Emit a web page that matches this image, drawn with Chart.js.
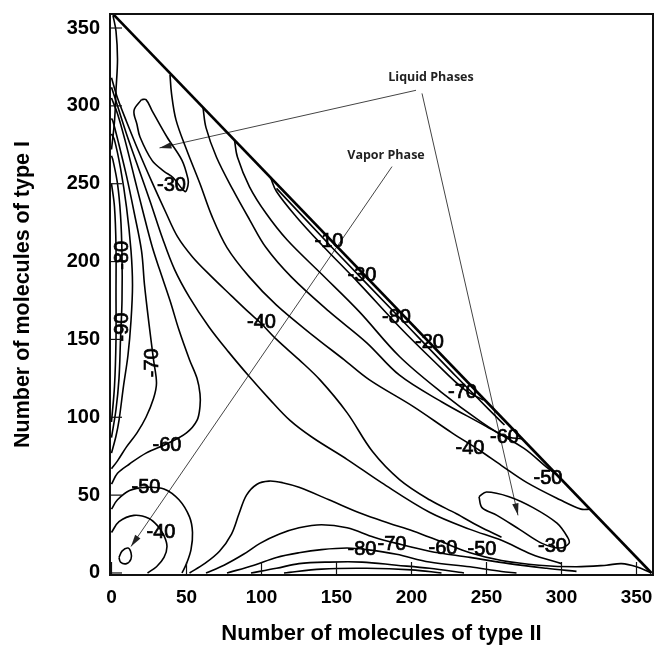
<!DOCTYPE html>
<html>
<head>
<meta charset="utf-8">
<script src="https://cdn.jsdelivr.net/npm/chart.js@4.4.0/dist/chart.umd.min.js"></script>
<style>
  html, body { margin: 0; padding: 0; background: #fff; }
  canvas { display: block; }
</style>
</head>
<body>
<canvas id="phaseChart" width="656" height="648"></canvas>
<script>
// axis ticks (both axes)
const tickValues = [0, 50, 100, 150, 200, 250, 300, 350];

// contour lines as [type II, type I] pairs
const boundary = [[0, 360], [360, 0]];
const boundaryHug = [[110, 247], [150, 206], [190, 166], [230, 126], [262, 95]];

const vaporLoop = [[5, 10], [7, 14], [11, 16], [13, 13], [13, 9], [10, 6], [6, 7], [5, 10]];
const vapor40 = [[0, 26], [5, 33], [15, 37], [25, 35], [31, 30], [35, 24], [37, 17], [35, 10], [30, 4], [24, 0]];
const vapor50 = [[0, 41], [4, 47], [12, 53], [23, 55], [35, 54], [45, 47], [52, 36], [54, 26], [53, 15], [50, 6], [47, 0]];
const contour60 = [[0, 57], [4, 64], [12, 70], [23, 77], [37, 83], [50, 90], [57, 98], [59, 107], [59, 115], [57, 125], [52, 137],
  [45, 156], [39, 175], [32, 195], [27, 210], [21, 232], [15, 255], [9, 278], [4, 295], [0, 305]];
const contour70 = [[0, 67], [4, 72], [10, 81], [17, 90], [23, 100], [28, 112], [30, 122], [28, 137], [25, 160], [22, 185],
  [20, 207], [15, 232], [10, 255], [5, 275], [1, 290], [0, 292]];
const axisLine1 = [[0, 97], [2, 120], [3, 150], [3, 180], [3, 210], [2, 235], [0, 250]];
const axisLine2 = [[0, 87], [3, 105], [5, 125], [6, 150], [7, 175], [7, 205], [6, 230], [4, 250], [1, 265], [0, 268]];
const axisLine3 = [[0, 77], [3, 88], [5, 98], [8, 120], [11, 140], [13, 162], [14, 185], [13, 207], [10, 235], [6, 260], [2, 278], [0, 282]];
const topLine = [[0, 272], [2, 290], [3, 310], [4, 330], [3, 348], [1, 358]];

const liquid1Loop = [[20, 304], [15, 297], [17, 288], [19, 280], [27, 265], [35, 258], [41, 254], [49, 245], [51, 249],
  [51, 253], [47, 265], [37, 280], [27, 297], [23, 304], [20, 304]];
const liquid2Loop = [[245, 49], [250, 52], [265, 49], [281, 42], [297, 32], [304, 23], [305, 19], [299, 16], [287, 19],
  [272, 28], [257, 37], [247, 42], [245, 49]];

const band1 = [[0, 312], [4, 300], [10, 282], [18, 260], [26, 238], [34, 215], [42, 195], [52, 177], [65, 158], [78, 142],
  [92, 126], [105, 112], [119, 98], [134, 87], [157, 73], [180, 58], [212, 39], [239, 28], [260, 21], [280, 12], [300, 6]];
const band2 = [[0, 318], [4, 305], [10, 290], [18, 271], [27, 251], [36, 232], [44, 216], [54, 203], [66, 191], [80, 178],
  [92, 167], [99, 161], [110, 150], [125, 137], [139, 124], [157, 103], [174, 78], [192, 60], [212, 47], [230, 38], [245, 30], [260, 23]];
const band3 = [[39, 320], [40, 308], [43, 291], [50, 272], [59, 250], [67, 229], [77, 209], [92, 190], [110, 172], [135, 152],
  [155, 137], [172, 124], [201, 107], [227, 90], [245, 79], [260, 69], [277, 58], [299, 47], [313, 41], [319, 41]];
const band4 = [[61, 299], [63, 286], [70, 267], [81, 246], [92, 227], [103, 209], [120, 190], [145, 168], [170, 148],
  [192, 127], [220, 110], [250, 94], [275, 80], [290, 68], [297, 63]];
const band5 = [[82, 278], [84, 267], [92, 248], [103, 231], [117, 214], [140, 192], [165, 168], [192, 139], [220, 116],
  [245, 98], [262, 88], [274, 86]];
const band6 = [[106, 254], [110, 245], [123, 229], [140, 211], [165, 186], [192, 158], [215, 136], [235, 118], [248, 111]];

const bottom1 = [[52, 0], [62, 6], [72, 14], [80, 25], [85, 38], [90, 50], [97, 57], [105, 59], [114, 58], [125, 55], [145, 47],
  [167, 38], [185, 32], [201, 27], [220, 20], [239, 13], [260, 8], [285, 5], [310, 4], [330, 5], [340, 6], [350, 4], [360, 0]];
const bottom2 = [[63, 0], [75, 5], [88, 12], [99, 19], [112, 25], [125, 29], [140, 31], [157, 29], [175, 23], [190, 19],
  [212, 14], [239, 10], [265, 6], [290, 3], [310, 1]];
const bottom3 = [[77, 0], [95, 5], [110, 10], [125, 13], [140, 15], [157, 16], [170, 15], [190, 12], [212, 7], [239, 4], [260, 1], [270, 0]];
const bottom4 = [[93, 0], [110, 3], [125, 6], [145, 7], [167, 7], [190, 5], [212, 3], [235, 0]];
const bottom5 = [[115, 0], [140, 2.5], [170, 3], [200, 2], [220, 0]];

// contour level labels: text, x, y, rotated
const contourLabels = [
  ['-30', 40, 249, false], ['-40', 100, 161, false], ['-70', 27, 135, true], ['-90', 7, 158, true], ['-80', 7, 204, true],
  ['-60', 37, 82, false], ['-50', 23, 55, false], ['-40', 33, 26, false], ['-10', 145, 213, false], ['-30', 167, 191, false],
  ['-80', 190, 164, false], ['-20', 212, 148, false], ['-70', 234, 116, false], ['-60', 262, 87, false], ['-40', 239, 80, false],
  ['-50', 291, 61, false], ['-30', 294, 17, false], ['-80', 167, 15, false], ['-70', 187, 18, false], ['-60', 221, 16, false],
  ['-50', 247, 15, false]
];

// annotation arrows (from text to phase) and their captions
const arrowLiquid1 = [[203, 310], [32, 273]];
const arrowLiquid2 = [[207, 308], [271, 37]];
const arrowVapor = [[187, 261], [13, 17]];
const captions = [['Liquid Phases', 213, 318.5], ['Vapor Phase', 183, 268]];

const contours = [boundaryHug, vaporLoop, vapor40, vapor50, contour60, contour70, axisLine1, axisLine2, axisLine3, topLine,
  liquid1Loop, liquid2Loop, band1, band2, band3, band4, band5, band6, bottom1, bottom2, bottom3, bottom4, bottom5];
const arrows = [arrowLiquid1, arrowLiquid2, arrowVapor];

function lineSet(points, width, color, tension) {
  return {
    data: points.map(p => ({ x: p[0], y: p[1] })),
    showLine: true,
    borderColor: color,
    borderWidth: width,
    pointRadius: 0,
    tension: tension,
    fill: false
  };
}

const datasets = [
  lineSet(boundary, 2.6, '#000', 0),
  ...contours.map(c => lineSet(c, 1.6, '#000', 0.35)),
  ...arrows.map(a => lineSet(a, 1, '#444', 0))
];

const decorations = {
  id: 'decorations',
  afterDatasetsDraw(chart) {
    const { ctx, chartArea: a, scales: { x, y } } = chart;
    ctx.save();

    // frame
    ctx.strokeStyle = '#111';
    ctx.lineWidth = 2;
    ctx.strokeRect(a.left, a.top, a.right - a.left, a.bottom - a.top);

    // inward tick marks
    ctx.lineWidth = 1.2;
    tickValues.forEach(v => {
      const px = x.getPixelForValue(v);
      ctx.beginPath(); ctx.moveTo(px, a.bottom); ctx.lineTo(px, a.bottom - 13); ctx.stroke();
      const py = y.getPixelForValue(v);
      ctx.beginPath(); ctx.moveTo(a.left, py); ctx.lineTo(a.left + 12, py); ctx.stroke();
    });

    // arrow heads
    ctx.fillStyle = '#222';
    arrows.forEach(ar => {
      const x0 = x.getPixelForValue(ar[0][0]), y0 = y.getPixelForValue(ar[0][1]);
      const x1 = x.getPixelForValue(ar[1][0]), y1 = y.getPixelForValue(ar[1][1]);
      const ang = Math.atan2(y1 - y0, x1 - x0);
      ctx.beginPath();
      ctx.moveTo(x1, y1);
      ctx.lineTo(x1 - 12 * Math.cos(ang) + 3.2 * Math.sin(ang), y1 - 12 * Math.sin(ang) - 3.2 * Math.cos(ang));
      ctx.lineTo(x1 - 12 * Math.cos(ang) - 3.2 * Math.sin(ang), y1 - 12 * Math.sin(ang) + 3.2 * Math.cos(ang));
      ctx.closePath();
      ctx.fill();
    });

    // contour labels
    ctx.fillStyle = '#000';
    ctx.strokeStyle = '#000';
    ctx.lineWidth = 0.7;
    ctx.textAlign = 'center';
    ctx.textBaseline = 'middle';
    ctx.font = '20px "Liberation Sans", Arial, sans-serif';
    contourLabels.forEach(([t, lx, ly, rot]) => {
      const px = x.getPixelForValue(lx), py = y.getPixelForValue(ly);
      ctx.save();
      ctx.translate(px, py);
      if (rot) ctx.rotate(-Math.PI / 2);
      ctx.fillText(t, 0, 0);
      ctx.strokeText(t, 0, 0);
      ctx.restore();
    });

    // captions
    ctx.fillStyle = '#222';
    ctx.font = 'bold 12.5px "Open Sans", sans-serif';
    captions.forEach(([t, cx, cy]) => {
      ctx.fillText(t, x.getPixelForValue(cx), y.getPixelForValue(cy));
    });

    ctx.restore();
  }
};

const axisFont = '"Liberation Sans", Arial, sans-serif';

const phaseChart = new Chart(document.getElementById('phaseChart'), {
  type: 'scatter',
  data: { datasets: datasets },
  options: {
    responsive: false,
    animation: false,
    devicePixelRatio: 1,
    layout: { padding: { top: 14, right: 3, left: 0, bottom: 0 } },
    plugins: {
      legend: { display: false },
      tooltip: { enabled: false }
    },
    scales: {
      x: {
        type: 'linear',
        min: -1,
        max: 361,
        grid: { display: false, drawTicks: false },
        border: { display: false },
        afterBuildTicks: scale => { scale.ticks = tickValues.map(v => ({ value: v })); },
        afterFit: scale => {
          scale.height = 73;
          scale.paddingLeft = 0;
          scale.paddingRight = 0;
        },
        ticks: {
          color: '#000',
          padding: 11,
          maxRotation: 0,
          font: { family: axisFont, size: 19, weight: 'bold' }
        },
        title: {
          display: true,
          text: 'Number of molecules of type II',
          color: '#000',
          padding: { top: 0, bottom: 1 },
          font: { family: axisFont, size: 22, weight: 'bold' }
        }
      },
      y: {
        type: 'linear',
        min: -1.3,
        max: 359,
        grid: { display: false, drawTicks: false },
        border: { display: false },
        afterBuildTicks: scale => { scale.ticks = tickValues.map(v => ({ value: v })); },
        afterFit: scale => {
          scale.width = 110;
          scale.paddingTop = 0;
          scale.paddingBottom = 0;
        },
        ticks: {
          color: '#000',
          padding: 10,
          font: { family: axisFont, size: 20, weight: 'bold' }
        },
        title: {
          display: true,
          text: 'Number of molecules of type I',
          color: '#000',
          padding: { top: 10, bottom: 0 },
          font: { family: axisFont, size: 21.5, weight: 'bold' }
        }
      }
    }
  },
  plugins: [decorations]
});
</script>
</body>
</html>
